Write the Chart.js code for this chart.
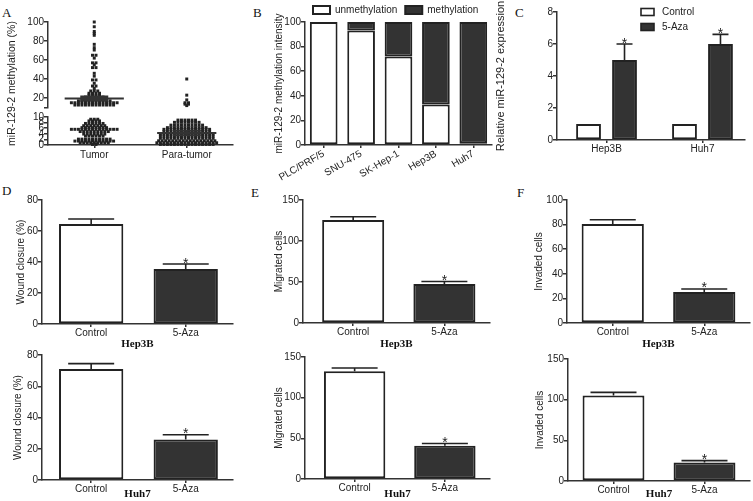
<!DOCTYPE html>
<html><head><meta charset="utf-8">
<script src="https://cdn.jsdelivr.net/npm/chart.js@4.4.1/dist/chart.umd.min.js"></script>
<style>
html,body{margin:0;padding:0;background:#fff}
body{width:753px;height:501px;position:relative;overflow:hidden}
canvas{position:absolute}
.pl{position:absolute;font-family:"Liberation Serif","Times New Roman",serif;font-size:13px;line-height:13px;color:#111}
</style></head><body>
<div class="pl" style="left:2px;top:6px">A</div>
<div class="pl" style="left:253px;top:6px">B</div>
<div class="pl" style="left:515px;top:6px">C</div>
<div class="pl" style="left:2px;top:184px">D</div>
<div class="pl" style="left:251px;top:186px">E</div>
<div class="pl" style="left:517px;top:186px">F</div>
<script>
// ---------- DATA ----------
// Panel A (scatter, value levels and number of samples at each level)
const groupsA = ['Tumor', 'Para-tumor'];
const tumorLevels = [100,95,90,88,86,76.5,73,70.5,65,62,57,55,52,46,43,39,35.5,32.6,30,27.4,25,23,21,19,17,15,12.6,9.2,8.6,7.7,6.9,6.2,5.6,4.8,3.9,3.2,2.1,1.4,0.8,0.2];
const tumorCounts = [1,1,1,1,1,1,1,1,2,1,2,1,2,1,1,2,1,2,1,3,4,4,6,7,10,14,12,3,4,6,7,8,14,9,7,6,10,12,9,2];
const paraLevels = [40,23,18,15,13.5,12,8.9,8.1,7.1,6.2,5.6,4.8,3.9,3.2,2.4,1.5,0.8,0.2];
const paraCounts = [1,1,1,2,2,1,6,8,10,12,14,14,16,16,16,17,18,16];
const meansA = [19.5, 4.3];
const semsA = [2.2, 0.8];
const ticksHighA = [20, 40, 60, 80, 100];
// Panel B
const cellLinesB = ['PLC/PRF/5', 'SNU-475', 'SK-Hep-1', 'Hep3B', 'Huh7'];
const unmethB = [100, 93, 72, 33, 1.5];
const methB = [0, 7, 28, 67, 98.5];
// Panel C
const groupsC = ['Hep3B', 'Huh7'];
const controlC = [1, 1];
const azaC = [5, 6];
const azaErrC = [1, 0.6];
// Panels D-F
const treatments = ['Control', '5-Aza'];
const starsDEF = [false, true];
const woundHep3B = [64.5, 35.5];
const woundHep3BErr = [3.2, 3.2];
const woundHuh7 = [71, 26];
const woundHuh7Err = [3.5, 3];
const migHep3B = [125.5, 47.5];
const migHep3BErr = [4, 3.2];
const migHuh7 = [132.5, 41];
const migHuh7Err = [4, 2.7];
const invHep3B = [80.5, 25.3];
const invHep3BErr = [3.4, 2.4];
const invHuh7 = [105, 22.6];
const invHuh7Err = [4, 2.4];

// ---------- LAYOUT ----------
const G = {
  A:  {cl:0,   ct:0,   cr:245, cb:165, left:48,  top:22,  right:233, bottom:145},
  B:  {cl:265, ct:-3,  cr:500, cb:185, left:305, top:22,  right:492, bottom:145},
  C:  {cl:490, ct:0,   cr:753, cb:160, left:557, top:12,  right:745, bottom:140},
  D1: {cl:0,   ct:188, cr:245, cb:351, left:42,  top:200, right:233, bottom:324},
  D2: {cl:0,   ct:343, cr:245, cb:501, left:42,  top:355, right:233, bottom:480},
  E1: {cl:255, ct:188, cr:500, cb:351, left:303, top:200, right:490, bottom:323},
  E2: {cl:255, ct:343, cr:500, cb:501, left:305, top:357, right:490, bottom:479},
  F1: {cl:505, ct:188, cr:753, cb:351, left:567, top:200, right:750, bottom:323},
  F2: {cl:505, ct:343, cr:753, cb:501, left:568, top:359, right:750, bottom:481}
};

Chart.defaults.font.family = "'Liberation Sans', Arial, sans-serif";
Chart.defaults.font.size = 10;
Chart.defaults.color = '#222';
Chart.defaults.animation = false;
Chart.defaults.plugins.tooltip.enabled = false;
Chart.defaults.plugins.legend.display = false;
const INK = '#222', AXIS = '#333', DARK = '#333';
const SERIF = "'Liberation Serif', 'Times New Roman', serif";

function mkCanvas(g) {
  const c = document.createElement('canvas');
  c.width = g.cr - g.cl; c.height = g.cb - g.ct;
  c.style.left = g.cl + 'px'; c.style.top = g.ct + 'px';
  c.style.width = c.width + 'px'; c.style.height = c.height + 'px';
  document.body.appendChild(c);
  return c;
}

const errorBarPlugin = {
  id: 'errorBars',
  afterDatasetsDraw(chart, args, o) {
    const ctx = chart.ctx;
    chart.data.datasets.forEach((ds, di) => {
      if (!ds.errors) return;
      const meta = chart.getDatasetMeta(di);
      const ys = chart.scales[meta.yAxisID];
      meta.data.forEach((bar, i) => {
        const e = ds.errors[i];
        const v = ds.data[i].y;
        const yTop = ys.getPixelForValue(v + e);
        ctx.save();
        ctx.strokeStyle = INK; ctx.lineWidth = 1.6;
        ctx.beginPath();
        ctx.moveTo(bar.x, bar.y); ctx.lineTo(bar.x, yTop);
        ctx.moveTo(bar.x - o.cap / 2, yTop); ctx.lineTo(bar.x + o.cap / 2, yTop);
        ctx.stroke();
        if (ds.stars && ds.stars[i]) {
          ctx.fillStyle = INK; ctx.font = "14px 'Liberation Sans', Arial";
          ctx.textAlign = 'center'; ctx.textBaseline = 'alphabetic';
          ctx.fillText('*', bar.x, yTop + 3.5);
        }
        ctx.restore();
      });
    });
  }
};

const meanSemPlugin = {
  id: 'meanSem',
  afterDatasetsDraw(chart, args, o) {
    const ctx = chart.ctx, xs = chart.scales.x;
    meansA.forEach((m, i) => {
      const ys = chart.scales[m >= 10 ? 'yHigh' : 'yLow'];
      const c = i + 1, cx = xs.getPixelForValue(c);
      const y = ys.getPixelForValue(m);
      const yt = ys.getPixelForValue(m + semsA[i]), yb = ys.getPixelForValue(m - semsA[i]);
      ctx.save(); ctx.strokeStyle = AXIS; ctx.lineWidth = 2;
      ctx.beginPath();
      ctx.moveTo(xs.getPixelForValue(c - o.half), y); ctx.lineTo(xs.getPixelForValue(c + o.half), y);
      ctx.moveTo(cx, yt); ctx.lineTo(cx, yb);
      ctx.moveTo(cx - o.cap, yt); ctx.lineTo(cx + o.cap, yt);
      ctx.moveTo(cx - o.cap, yb); ctx.lineTo(cx + o.cap, yb);
      ctx.stroke(); ctx.restore();
    });
  }
};

const boxLegendPlugin = {
  id: 'boxLegend',
  afterDraw(chart, args, o) {
    const ctx = chart.ctx;
    chart.data.datasets.forEach((ds, i) => {
      const y = o.y + i * o.rowH;
      ctx.save();
      ctx.fillStyle = ds.backgroundColor; ctx.strokeStyle = ds.borderColor; ctx.lineWidth = 1.6;
      ctx.fillRect(o.x, y - o.boxH / 2, o.boxW, o.boxH);
      ctx.strokeRect(o.x, y - o.boxH / 2, o.boxW, o.boxH);
      ctx.fillStyle = INK; ctx.font = "10px 'Liberation Sans', Arial";
      ctx.textAlign = 'left'; ctx.textBaseline = 'middle';
      ctx.fillText(ds.label, o.x + o.boxW + o.gap, y);
      ctx.restore();
    });
  }
};

function xScale(g, o) {
  const base = o.base || 0;
  return {
    type: 'linear', min: o.min, max: o.max, offset: false,
    afterBuildTicks: s => { s.ticks = o.labels.map((_, i) => ({value: i + base})); },
    ticks: {autoSkip: false, maxRotation: o.rot || 0, minRotation: o.rot || 0, padding: o.pad || 0,
            color: INK, font: {size: 10}, callback: v => o.labels[Math.round(v - base)]},
    grid: {display: true, offset: false, drawOnChartArea: false, drawTicks: true, tickLength: 3, color: AXIS, lineWidth: 1.5},
    border: {display: true, color: AXIS, width: 1.5},
    title: o.title ? {display: true, text: o.title, color: '#111',
            font: {family: SERIF, size: 11, weight: 'bold'}, padding: {top: 0, bottom: 0}} : {display: false},
    afterFit: s => { s.height = g.cb - g.bottom; }
  };
}

function yScale(g, o) {
  const size = o.size || 10;
  return {
    type: 'linear', position: 'left', min: 0, max: o.max,
    ticks: {stepSize: o.step, padding: 0, color: INK, font: {size: 10}, autoSkip: false},
    grid: {display: true, drawOnChartArea: false, drawTicks: true, tickLength: 4, color: AXIS, lineWidth: 1.5},
    border: {display: true, color: AXIS, width: 1.5},
    title: {display: true, text: o.title, color: INK, font: {size: size},
            padding: {top: o.tx - g.cl - size * 0.6, bottom: 0}},
    afterFit: s => { s.width = g.left - g.cl; }
  };
}

function baseOptions(g, padTop) {
  return {
    responsive: false, devicePixelRatio: 1,
    layout: {padding: {left: 0, top: padTop, right: g.cr - g.right, bottom: 0}}
  };
}

// ---------- PANEL A ----------
function swarm(levels, counts, center, dx) {
  const pts = [];
  levels.forEach((v, j) => {
    const n = counts[j];
    for (let k = 0; k < n; k++) pts.push({x: center + (k - (n - 1) / 2) * dx, y: v});
  });
  return pts;
}
const tumorPts = swarm(tumorLevels, tumorCounts, 1, 0.038);
const paraPts = swarm(paraLevels, paraCounts, 2, 0.038);
const hiPts = p => p.filter(q => q.y >= 10), loPts = p => p.filter(q => q.y < 10);
const ptStyle = {pointStyle: 'rect', pointRadius: 2.1, pointBackgroundColor: INK, pointBorderWidth: 0, clip: false};
const tickStyleA = {padding: 0, color: INK, font: {size: 10}, autoSkip: false};
const gridStyleA = {display: true, drawOnChartArea: false, drawTicks: true, tickLength: 4, color: AXIS, lineWidth: 1.5};
new Chart(mkCanvas(G.A), {
  type: 'scatter',
  data: {datasets: [
    Object.assign({data: hiPts(tumorPts), yAxisID: 'yHigh'}, ptStyle),
    Object.assign({data: loPts(tumorPts), yAxisID: 'yLow'}, ptStyle),
    Object.assign({data: hiPts(paraPts), yAxisID: 'yHigh'}, ptStyle),
    Object.assign({data: loPts(paraPts), yAxisID: 'yLow'}, ptStyle)
  ]},
  options: Object.assign(baseOptions(G.A, 22), {
    plugins: {meanSem: {half: 0.32, cap: 14}},
    scales: {
      x: xScale(G.A, {min: 0.5, max: 2.5, labels: groupsA, base: 1, pad: 1}),
      yLow: {type: 'linear', position: 'left', stack: 'a', stackWeight: 28, min: 0, max: 10,
             ticks: Object.assign({stepSize: 2}, tickStyleA), grid: gridStyleA,
             border: {color: AXIS, width: 1.5}, afterFit: s => { s.width = 28; }},
      yGap: {type: 'linear', position: 'left', stack: 'a', stackWeight: 9.5, min: 0, max: 1,
             ticks: {display: false}, grid: {display: false}, border: {display: false},
             afterFit: s => { s.width = 28; }},
      yHigh: {type: 'linear', position: 'left', stack: 'a', stackWeight: 85.5, min: 10, max: 100,
              afterBuildTicks: s => { s.ticks = [10].concat(ticksHighA).map(v => ({value: v})); },
              ticks: Object.assign({callback: v => (v === 10 ? '' : v)}, tickStyleA), grid: gridStyleA,
              border: {color: AXIS, width: 1.5}, afterFit: s => { s.width = 28; }},
      yTitle: {type: 'linear', position: 'left', weight: 1, min: 0, max: 1,
               ticks: {display: false}, grid: {display: false}, border: {display: false},
               title: {display: true, text: 'miR-129-2 methylation (%)', color: INK, font: {size: 10.5},
                       padding: {top: 6, bottom: 0}},
               afterFit: s => { s.width = 20; }}
    }
  }),
  plugins: [meanSemPlugin]
});

// ---------- PANEL B ----------
new Chart(mkCanvas(G.B), {
  type: 'bar',
  data: {datasets: [
    {label: 'unmethylation', data: cellLinesB.map((_, i) => ({x: i, y: unmethB[i]})),
     backgroundColor: '#fff', borderColor: INK, borderWidth: 2, borderSkipped: false},
    {label: 'methylation', data: cellLinesB.map((_, i) => ({x: i, y: methB[i]})),
     backgroundColor: DARK, borderColor: INK, borderWidth: 2, borderSkipped: false}
  ]},
  options: Object.assign(baseOptions(G.B, 0), {
    datasets: {bar: {categoryPercentage: 1, barPercentage: 0.74}},
    plugins: {legend: {display: true, position: 'top', fullSize: false, align: 'start', maxHeight: 25,
              labels: {boxWidth: 17, boxHeight: 8, padding: 8, color: INK, font: {size: 10}}}},
    scales: {
      x: Object.assign(xScale(G.B, {min: -0.5, max: 4.5, labels: cellLinesB, rot: 30}), {stacked: true}),
      y: Object.assign(yScale(G.B, {max: 100, step: 20, title: 'miR-129-2 methylation intensity', tx: 279}), {stacked: true})
    }
  })
});

// ---------- PANEL C ----------
new Chart(mkCanvas(G.C), {
  type: 'bar',
  data: {datasets: [
    {label: 'Control', data: groupsC.map((_, i) => ({x: i, y: controlC[i]})),
     backgroundColor: '#fff', borderColor: INK, borderWidth: 2, borderSkipped: false},
    {label: '5-Aza', data: groupsC.map((_, i) => ({x: i, y: azaC[i]})), errors: azaErrC, stars: [true, true],
     backgroundColor: DARK, borderColor: INK, borderWidth: 2, borderSkipped: false}
  ]},
  options: Object.assign(baseOptions(G.C, 12), {
    datasets: {bar: {categoryPercentage: 0.75, barPercentage: 0.69}},
    plugins: {errorBars: {cap: 16}, boxLegend: {x: 151, y: 12, rowH: 15, boxW: 13, boxH: 7, gap: 8}},
    scales: {
      x: xScale(G.C, {min: -0.516, max: 1.443, labels: groupsC}),
      y: yScale(G.C, {max: 8, step: 2, title: 'Relative miR-129-2 expression', tx: 501, size: 11})
    }
  }),
  plugins: [errorBarPlugin, boxLegendPlugin]
});

// ---------- PANELS D-F ----------
function barPanel(g, values, errs, yTitle, group, yMax, yStep, tx, xMin) {
  new Chart(mkCanvas(g), {
    type: 'bar',
    data: {datasets: [{
      data: treatments.map((_, i) => ({x: i, y: values[i]})), errors: errs, stars: starsDEF,
      backgroundColor: ['#fff', DARK], borderColor: INK, borderWidth: 2, borderSkipped: false
    }]},
    options: Object.assign(baseOptions(g, g.top - g.ct), {
      datasets: {bar: {categoryPercentage: 1, barPercentage: 0.68}},
      plugins: {errorBars: {cap: 46}},
      scales: {
        x: xScale(g, {min: xMin, max: 1.5, labels: treatments, title: group}),
        y: yScale(g, {max: yMax, step: yStep, title: yTitle, tx: tx})
      }
    }),
    plugins: [errorBarPlugin]
  });
}
barPanel(G.D1, woundHep3B, woundHep3BErr, 'Wound closure (%)', 'Hep3B', 80, 20, 21, -0.52);
barPanel(G.D2, woundHuh7, woundHuh7Err, 'Wound closure (%)', 'Huh7', 80, 20, 18.5, -0.52);
barPanel(G.E1, migHep3B, migHep3BErr, 'Migrated cells', 'Hep3B', 150, 50, 279.5, -0.55);
barPanel(G.E2, migHuh7, migHuh7Err, 'Migrated cells', 'Huh7', 150, 50, 279, -0.55);
barPanel(G.F1, invHep3B, invHep3BErr, 'Invaded cells', 'Hep3B', 100, 20, 539, -0.5);
barPanel(G.F2, invHuh7, invHuh7Err, 'Invaded cells', 'Huh7', 150, 50, 540, -0.5);
</script>
</body></html>
